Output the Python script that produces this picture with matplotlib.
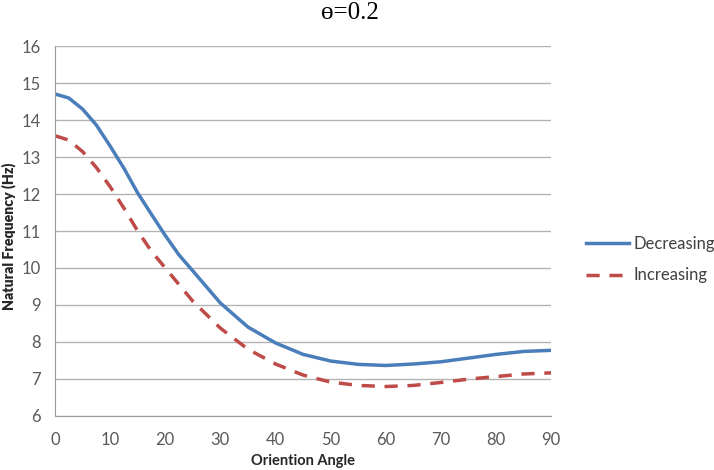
import matplotlib
matplotlib.use('Agg')
import matplotlib.pyplot as plt

# orientation angle (deg) and natural frequency (Hz)
angle = [0, 2.5, 5, 7.5, 10, 12.5, 15, 17.5, 20, 22.5, 25, 30, 35, 40, 45, 50, 55, 60,
         65, 70, 75, 80, 85, 90]
decreasing = [14.71, 14.60, 14.30, 13.87, 13.30, 12.70, 12.03, 11.45, 10.88, 10.35, 9.92,
              9.05, 8.40, 7.97, 7.66, 7.48, 7.39, 7.36, 7.40, 7.46, 7.56, 7.66, 7.74, 7.77]
increasing = [13.58, 13.46, 13.15, 12.72, 12.20, 11.62, 11.00, 10.45, 10.00, 9.55, 9.10,
              8.37, 7.80, 7.40, 7.10, 6.91, 6.82, 6.79, 6.82, 6.90, 6.99, 7.06, 7.13, 7.16]

plt.rcParams['font.family'] = ['Lato', 'DejaVu Sans']

fig = plt.figure(figsize=(7.14, 4.70), dpi=100)
ax = fig.add_axes([0.077, 0.1155, 0.695, 0.786])

ax.plot(angle, decreasing, color='#4a7ebb', lw=2.5, label='Decreasing')
ax.plot(angle, increasing, color='#be4b48', lw=2.5, dashes=(3.8, 2.8), label='Increasing')

ax.set_xlim(0, 90)
ax.set_ylim(6, 16)
ax.set_xticks(range(0, 91, 10))
ax.set_yticks(range(6, 17, 1))
ax.grid(axis='y', color='#b3b3b3', lw=1)
ax.set_axisbelow(True)
for s in ['top', 'right']:
    ax.spines[s].set_visible(False)
for s in ['left', 'bottom']:
    ax.spines[s].set_color('#999999')
ax.tick_params(length=0, labelsize=12, colors='#595959')
ax.tick_params(axis='x', pad=12)
ax.tick_params(axis='y', pad=10)

ax.set_xlabel('Oriention Angle', fontsize=10.5, fontweight='bold', color='#262626', labelpad=4)
fig.text(0.002, 0.498, 'Natural Frequency (Hz)', rotation=90, ha='left', va='center',
         fontsize=10.2, fontweight='heavy', color='#262626')

fig.text(0.49, 0.995, '\u0275=0.2', ha='center', va='top', fontsize=18,
         family=['Liberation Serif', 'DejaVu Serif'])

leg = ax.legend(loc='center left', bbox_to_anchor=(0.811, 0.448),
                bbox_transform=fig.transFigure, frameon=False, borderaxespad=0,
                fontsize=12, handlelength=2.6, labelspacing=0.95, handletextpad=0.25)
for t in leg.get_texts():
    t.set_color('#404040')

fig.savefig('out.png', dpi=100)
